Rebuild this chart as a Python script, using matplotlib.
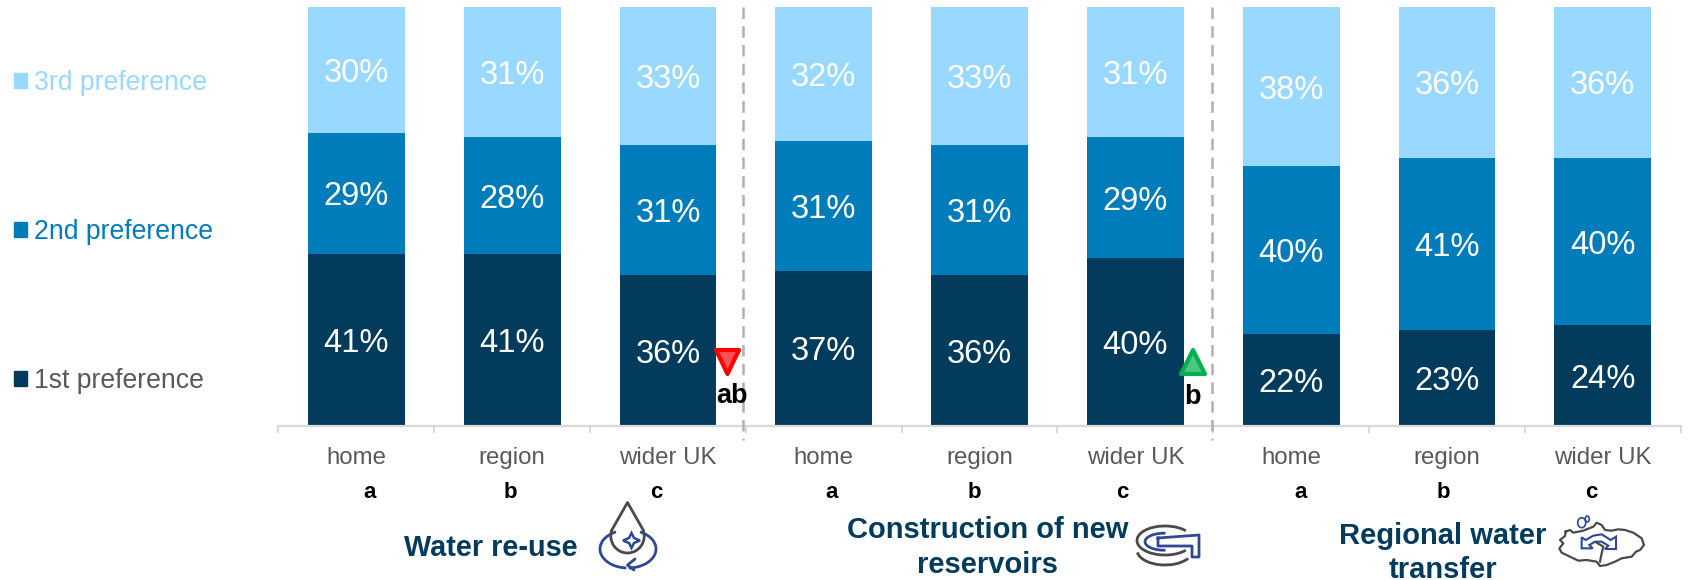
import numpy as np
import matplotlib
matplotlib.use("Agg")
import matplotlib.pyplot as plt
from matplotlib.patches import Patch, Polygon, Ellipse, Arc

plt.rcParams['font.family'] = ['Liberation Sans', 'DejaVu Sans']

groups = ["home", "region", "wider UK"] * 3
sig_letters = ["a", "b", "c"] * 3
first = [41, 41, 36, 37, 36, 40, 22, 23, 24]
second = [29, 28, 31, 31, 31, 29, 40, 41, 40]
third = [30, 31, 33, 32, 33, 31, 38, 36, 36]
series_names = ["1st preference", "2nd preference", "3rd preference"]

DARK = "#023B5C"
MID = "#007CBA"
LIGHT = "#99D9FF"
GREY = "#595959"
ICON_GREY = "#4A4A4A"
ICON_BLUE = "#2F4896"

fig = plt.figure(figsize=(16.9, 5.8), dpi=100)
ax = fig.add_axes([278.5/1690, 1-426/580, 1402.2/1690, 419/580])

x = np.arange(len(first))
first = np.array(first)
second = np.array(second)
third = np.array(third)
b1 = ax.bar(x, first, 0.622, color=DARK)
b2 = ax.bar(x, second, 0.622, bottom=first, color=MID)
b3 = ax.bar(x, third, 0.622, bottom=first+second, color=LIGHT)

for bars, vals, base in [(b1, first, 0*first), (b2, second, first), (b3, third, first+second)]:
    for i in range(len(vals)):
        ax.text(x[i], base[i]+vals[i]/2, str(vals[i])+"%", color="white", fontsize=23.5,
                ha="center", va="center_baseline")

ax.set_xlim(-0.5, 8.5)
ax.set_ylim(0, 100)
ax.set_yticks([])
ax.set_xticks(x)
ax.set_xticklabels(groups, fontsize=17.3, color=GREY)
ax.set_xticks(np.arange(-0.5, 9), minor=True)
ax.tick_params(axis="x", which="major", length=0, pad=15)
ax.tick_params(axis="x", which="minor", length=5, width=1.4, color="#D9D9D9")
for s in ["top", "left", "right"]:
    ax.spines[s].set_visible(False)
ax.spines["bottom"].set_color("#D9D9D9")
ax.spines["bottom"].set_linewidth(1.6)
ax.patch.set_alpha(0)

# legend on the left, top entry is 3rd preference
handles = [Patch(color=LIGHT), Patch(color=MID), Patch(color=DARK)]
leg = fig.legend(handles, series_names[::-1], loc="upper left", bbox_to_anchor=(0.0, 1-56/580),
                 frameon=False, fontsize=19.2, handlelength=0.5, handleheight=0.5,
                 handletextpad=0.24, labelspacing=4.61, borderpad=0, borderaxespad=0.52)
for t, c in zip(leg.get_texts(), [LIGHT, MID, GREY]):
    t.set_color(c)

# overlay in picture pixels for the annotations and icons
ov = fig.add_axes([0, 0, 1, 1])
ov.set_xlim(0, 1690)
ov.set_ylim(580, 0)
ov.axis("off")
ov.patch.set_alpha(0)

for dx in [743.4, 1211.8]:
    ov.plot([dx, dx], [7, 440], color="#B0B0B0", lw=1.8, dashes=(4.6, 2.9), dash_capstyle="butt")

letter_x = [370, 510, 656.5, 832, 974.5, 1122, 1301, 1443, 1591]
for lx, l in zip(letter_x, sig_letters):
    ov.text(lx, 492, l, fontsize=16, fontweight="bold", color="black", ha="center", va="center")

# significance markers
ov.add_patch(Polygon([(716, 350), (739, 350), (727.5, 374)], closed=True, facecolor="#FF5058",
                     edgecolor="#FF0000", lw=3, joinstyle="round"))
ov.add_patch(Polygon([(1181, 374), (1205, 374), (1193, 350)], closed=True, facecolor="#4CC67F",
                     edgecolor="#00B050", lw=3, joinstyle="round"))
ov.text(732, 396, "ab", fontsize=19.5, fontweight="bold", color="black", ha="center", va="center")
ov.text(1192, 397, "b", fontsize=19.5, fontweight="bold", color="black", ha="center", va="center")

# option titles
ov.text(490.5, 548, "Water re-use", fontsize=20.8, fontweight="bold", color=DARK, ha="center", va="center")
ov.text(988, 530, "Construction of new", fontsize=21, fontweight="bold", color=DARK, ha="center", va="center")
ov.text(988, 565, "reservoirs", fontsize=21, fontweight="bold", color=DARK, ha="center", va="center")
ov.text(1443, 536.5, "Regional water", fontsize=21, fontweight="bold", color=DARK, ha="center", va="center")
ov.text(1443, 569.5, "transfer", fontsize=21, fontweight="bold", color=DARK, ha="center", va="center")

# icon 1, drop with ring
ov.add_patch(Arc((628, 549), 56, 38, theta1=95, theta2=235, color=ICON_BLUE, lw=2))
ov.add_patch(Arc((628, 549), 56, 38, theta1=-55, theta2=88, color=ICON_BLUE, lw=2))
ov.plot([635, 627.5, 634], [559, 565, 570], color=ICON_BLUE, lw=2, solid_capstyle="round")
ov.add_patch(Arc((627.5, 536), 33.4, 34, theta1=-20, theta2=200, color=ICON_GREY, lw=2))
ov.plot([611.8, 627.5, 643.2], [530, 502.5, 530], color=ICON_GREY, lw=2)
ov.add_patch(Polygon([(631.5, 533), (634, 538), (640, 540.5), (634, 543), (631.5, 548), (629, 543),
                      (623, 540.5), (629, 538)], closed=True, fill=False, edgecolor=ICON_BLUE, lw=1.8))

# icon 2, reservoir
ov.add_patch(Arc((1165, 540.5), 56, 29, theta1=25, theta2=335, color=ICON_GREY, lw=2))
ov.add_patch(Arc((1165, 550), 56, 30, theta1=20, theta2=175, color=ICON_GREY, lw=2))
ov.add_patch(Arc((1164, 541.7), 38, 17, theta1=80, theta2=280, color=ICON_BLUE, lw=2))
ov.plot([1158, 1199, 1199, 1192, 1192, 1158, 1158],
        [538, 535, 557, 557, 546, 546, 538], color=ICON_BLUE, lw=2)

# icon 3, region with arrows (traced, crop origin 1550,510 at 3x)
outline_x = [47, 60, 70, 85, 100, 130, 140, 155, 165, 185, 205, 225, 250, 275, 282, 270, 258, 245, 215, 195,
             170, 150, 140, 110, 85, 60, 35, 28, 40, 30, 45, 47]
outline_y = [65, 60, 68, 65, 62, 50, 38, 45, 60, 62, 58, 60, 68, 85, 105, 120, 125, 140, 145, 155,
             165, 168, 155, 150, 152, 140, 128, 115, 100, 90, 78, 65]
split_x = [140, 160, 155, 150]
split_y = [98, 110, 130, 155]
arrow_x = [95, 107, 130, 155, 182, 198, 198, 165, 175, 155, 135, 118, 128, 95]
arrow_y = [82, 90, 77, 73, 90, 80, 117, 117, 107, 95, 95, 105, 115, 115]
ov.plot(1550+np.array(outline_x)/3, 510+np.array(outline_y)/3, color=ICON_GREY, lw=1.6)
ov.plot(1550+np.array(split_x)/3, 510+np.array(split_y)/3, color=ICON_GREY, lw=1.6)
ov.add_patch(Polygon(np.column_stack([1550+np.array(arrow_x)/3, 510+np.array(arrow_y)/3]), closed=True,
                     fill=False, edgecolor=ICON_BLUE, lw=1.5))
ov.add_patch(Ellipse((1581.7, 522.7), 8, 10, fill=False, edgecolor=ICON_BLUE, lw=1.2))
ov.add_patch(Ellipse((1587.3, 519), 4, 6, fill=False, edgecolor=ICON_BLUE, lw=1.2))

fig.savefig("out.png", dpi=100)
